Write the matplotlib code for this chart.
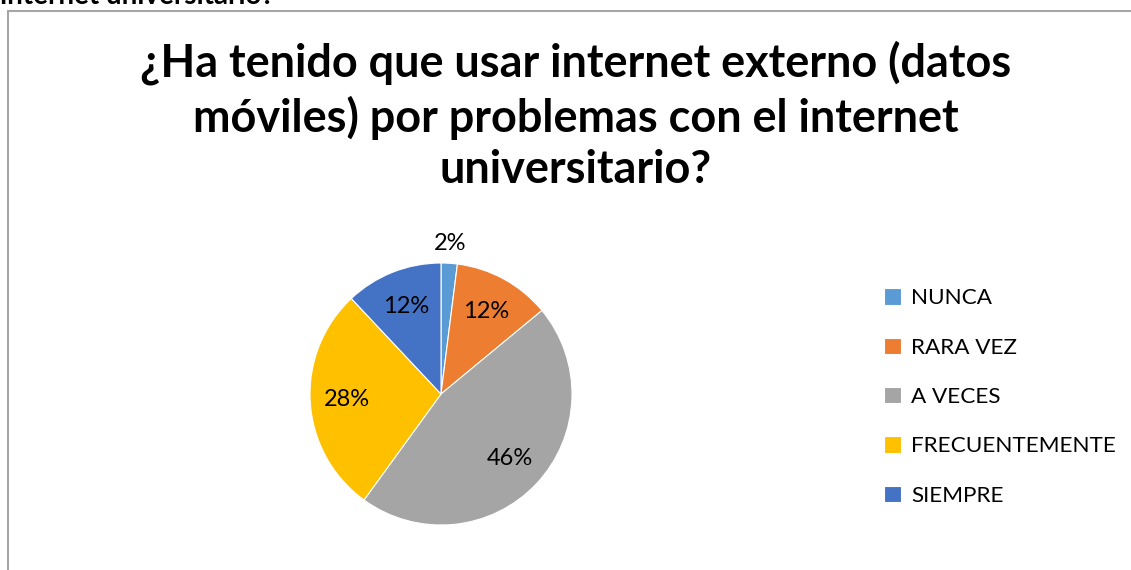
import matplotlib
matplotlib.use("Agg")
import matplotlib.pyplot as plt
from matplotlib.patches import Rectangle
import numpy as np

plt.rcParams['font.family'] = ['Lato', 'DejaVu Sans']

categorias = ["NUNCA", "RARA VEZ", "A VECES", "FRECUENTEMENTE", "SIEMPRE"]
porcentajes = [2, 12, 46, 28, 12]
colores = ["#5B9BD5", "#ED7D31", "#A5A5A5", "#FFC000", "#4472C4"]
titulo = "¿Ha tenido que usar internet externo (datos\nmóviles) por problemas con el internet\nuniversitario?"

W, H = 1131, 570
fig = plt.figure(figsize=(W / 100, H / 100), dpi=100)

# chart border (cut off right/bottom like the screenshot)
fig.patches.append(Rectangle((8 / W, -0.1), 1.2, 1 - 11 / H + 0.1, transform=fig.transFigure,
                             fill=False, edgecolor="#A6A6A6", linewidth=1.5))

# leftover heading text from the page above, clipped at top
fig.text(0.0, 1 - 4 / H, "internet universitario?", fontsize=20, fontweight="bold",
         ha="left", va="baseline")

fig.text(576 / W, 1 - 116 / H, titulo, fontsize=32.4, fontweight="bold",
         ha="center", va="center", linespacing=1.28)

cx, cy, r = 441, 394, 131
ax = fig.add_axes([(cx - r) / W, (H - cy - r) / H, 2 * r / W, 2 * r / H])
wedges, textos, autotextos = ax.pie(porcentajes, colors=colores, startangle=90, counterclock=False,
                                    autopct="%1.0f%%", pctdistance=0.72,
                                    wedgeprops=dict(linewidth=0.8, edgecolor="white"),
                                    textprops=dict(fontsize=17, color="black"))
# small slice label outside
w0 = wedges[0]
ang = np.deg2rad((w0.theta1 + w0.theta2) / 2)
autotextos[0].set_position((1.15 * np.cos(ang), 1.15 * np.sin(ang)))
ax.set_xlim(-1, 1)
ax.set_ylim(-1, 1)
ax.axis("off")

leg = fig.legend(wedges, categorias, loc="upper left", bbox_to_anchor=(864 / W, 1 - 268 / H),
                 frameon=False, fontsize=16.2, handlelength=0.75, handleheight=0.75,
                 handletextpad=0.45, labelspacing=1.3)

fig.savefig("out.png", dpi=100)
